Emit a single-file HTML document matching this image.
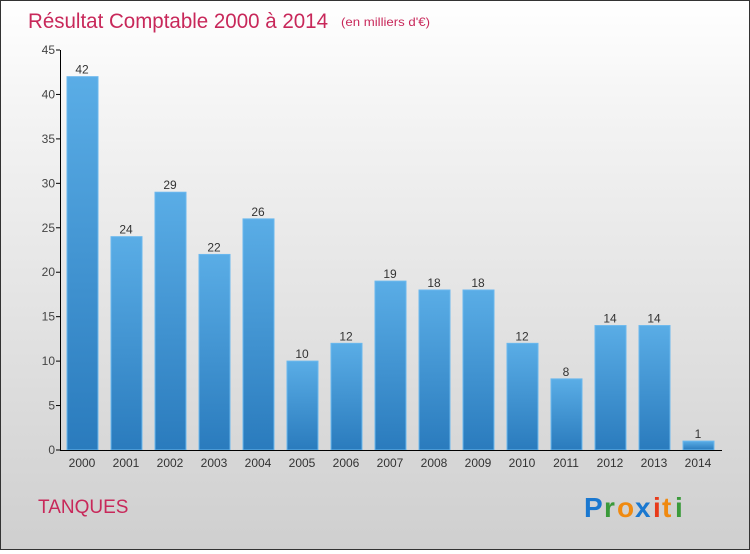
<!DOCTYPE html>
<html><head><meta charset="utf-8"><style>
body{margin:0;width:750px;height:550px;overflow:hidden;font-family:"Liberation Sans",sans-serif}
#wrap{position:absolute;left:0;top:0;width:748px;height:548px;border:1px solid #333;background:linear-gradient(#fff,#f4f4f4 20%,#cfcfcf)}
</style></head><body>
<div id="wrap">
<svg id="svg" width="748" height="548">
<text x="27" y="27" font-size="21" fill="#c8285a" textLength="300" lengthAdjust="spacingAndGlyphs">Résultat Comptable 2000 à 2014</text>
<text x="340" y="25" font-size="12" fill="#c8285a" textLength="89" lengthAdjust="spacingAndGlyphs">(en milliers d'€)</text>
<text x="37" y="512" font-size="19" fill="#c8285a">TANQUES</text>
<g font-size="28" font-weight="bold">
<text x="583" y="516" fill="#1a78d0">P</text><text x="603" y="516" fill="#3a9a3a">r</text><text x="616" y="516" fill="#f08a10">o</text><text x="634" y="516" fill="#1a78d0">x</text><text x="652" y="516" fill="#e83a1a">i</text><text x="661" y="516" fill="#f08a10">t</text><text x="674" y="516" fill="#3a9a3a">i</text>
</g>
<defs><linearGradient id="bg" x1="0" y1="0" x2="0" y2="1"><stop offset="0" stop-color="#5aade6"/><stop offset="1" stop-color="#2a7bbd"/></linearGradient></defs>
<g id="plot"></g>
</svg></div>
<script>
const categories=["2000","2001","2002","2003","2004","2005","2006","2007","2008","2009","2010","2011","2012","2013","2014"];
const values=[42,24,29,22,26,10,12,19,18,18,12,8,14,14,1];
const ticks=[0,5,10,15,20,25,30,35,40,45];
const NS="http://www.w3.org/2000/svg";
const g=document.getElementById('plot');
const y0=449,yTop=49,ymax=45;
const y=v=>y0-(y0-yTop)*v/ymax;
const x=i=>81+i*44;
function mk(t,a,txt){const e=document.createElementNS(NS,t);for(const k in a)e.setAttribute(k,a[k]);if(txt!==undefined)e.textContent=txt;g.appendChild(e);return e;}
ticks.forEach(t=>{
 const l=mk('line',{x1:55,x2:59,y1:y(t),y2:y(t),stroke:'#000'});
 
 
 const tx=mk('text',{x:54,y:y(t)+4,'text-anchor':'end','font-size':12,fill:'#444'},t);
 
 
});
values.forEach((v,i)=>{
 const r=mk('rect',{x:x(i)-15,y:y(v),width:31,height:y0-y(v),fill:'url(#bg)',stroke:'#6ab8ee','stroke-width':1});
 
 
 const vl=mk('text',{x:x(i),y:y(v)-3,'text-anchor':'middle','font-size':12,fill:'#333'},v);
 
 
 const cl=mk('text',{x:x(i),y:466,'text-anchor':'middle','font-size':12,fill:'#333'},categories[i]);
 
 
});
const ya=mk('line',{x1:59.5,x2:59.5,y1:yTop,y2:y0+0.5,stroke:'#000'});


const xa=mk('line',{x1:59,x2:721,y1:y0+0.5,y2:y0+0.5,stroke:'#000'});


</script>
</body></html>
